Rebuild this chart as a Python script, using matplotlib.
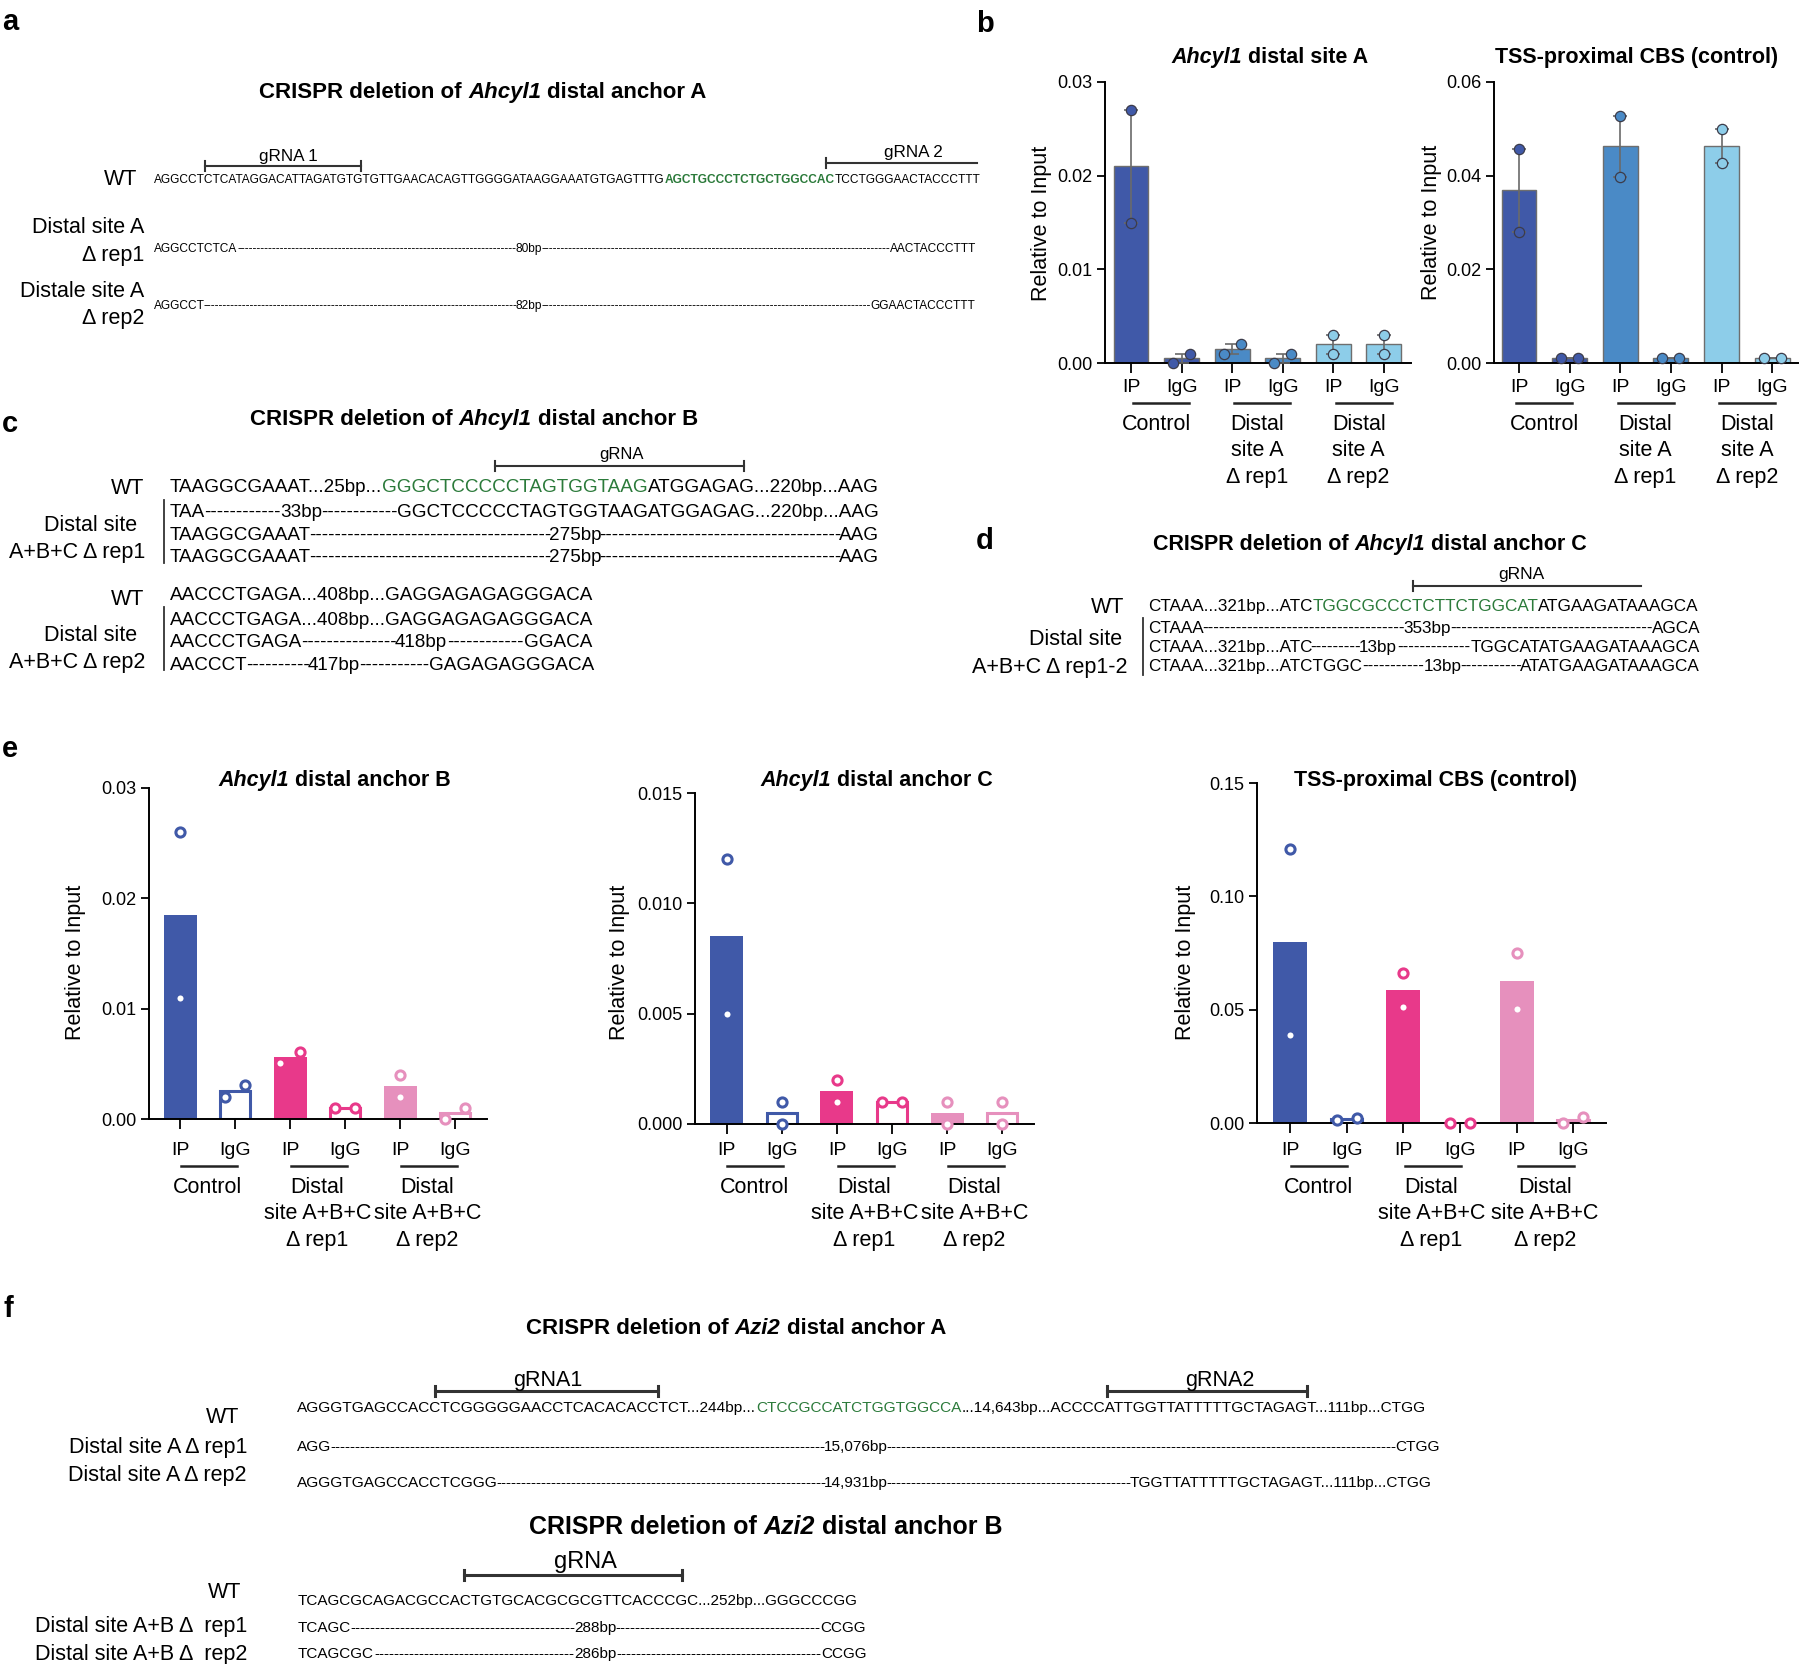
import matplotlib
matplotlib.use('Agg')
import matplotlib.pyplot as plt
from matplotlib.lines import Line2D
import numpy as np
import math

# ----------------------------------------------------------------- data ----
conditions = ["IP", "IgG"]
b_groups = [["Control"], ["Distal", "site A", "Δ rep1"], ["Distal", "site A", "Δ rep2"]]
e_groups = [["Control"], ["Distal", "site A+B+C", "Δ rep1"], ["Distal", "site A+B+C", "Δ rep2"]]

# bar order: Control IP, Control IgG, rep1 IP, rep1 IgG, rep2 IP, rep2 IgG
b_siteA_r1 = [0.0270, 0.0000, 0.0010, 0.0000, 0.0030, 0.0030]
b_siteA_r2 = [0.0150, 0.0010, 0.0020, 0.0010, 0.0010, 0.0010]
b_tss_r1 = [0.0457, 0.0010, 0.0528, 0.0010, 0.0500, 0.0010]
b_tss_r2 = [0.0280, 0.0010, 0.0398, 0.0010, 0.0428, 0.0010]
b_siteA_yticks = [0.0, 0.01, 0.02, 0.03]
b_siteA_ylabels = ["0.00", "0.01", "0.02", "0.03"]
b_tss_yticks = [0.0, 0.02, 0.04, 0.06]
b_tss_ylabels = ["0.00", "0.02", "0.04", "0.06"]

e_B_r1 = [0.0260, 0.0020, 0.0051, 0.0010, 0.0040, 0.0000]
e_B_r2 = [0.0110, 0.0031, 0.0061, 0.0010, 0.0020, 0.0010]
e_C_r1 = [0.0120, 0.0010, 0.0020, 0.0010, 0.0010, 0.0010]
e_C_r2 = [0.0050, 0.0000, 0.0010, 0.0010, 0.0000, 0.0000]
e_T_r1 = [0.1210, 0.0012, 0.0662, 0.0000, 0.0750, 0.0000]
e_T_r2 = [0.0388, 0.0021, 0.0512, 0.0000, 0.0503, 0.0028]
e_B_yticks = [0.0, 0.01, 0.02, 0.03]
e_B_ylabels = ["0.00", "0.01", "0.02", "0.03"]
e_C_yticks = [0.0, 0.005, 0.010, 0.015]
e_C_ylabels = ["0.000", "0.005", "0.010", "0.015"]
e_T_yticks = [0.0, 0.05, 0.10, 0.15]
e_T_ylabels = ["0.00", "0.05", "0.10", "0.15"]

# sequences
a_wt = ["AGGCCTCTCATAGGACATTAGATGTGTGTTGAACACAGTTGGGGATAAGGAAATGTGAGTTTG",
        "AGCTGCCCTCTGCTGGCCAC", "TCCTGGGAACTACCCTTT"]
a_rows = [("AGGCCTCTCA", "80bp", "AACTACCCTTT"), ("AGGCCT", "82bp", "GGAACTACCCTTT")]
c_wt1 = ["TAAGGCGAAAT...25bp...", "GGGCTCCCCCTAGTGGTAAG", "ATGGAGAG...220bp...AAG"]
c_rows1 = [("TAA", "33bp", "GGCTCCCCCTAGTGGTAAGATGGAGAG...220bp...AAG"),
           ("TAAGGCGAAAT", "275bp", "AAG"), ("TAAGGCGAAAT", "275bp", "AAG")]
c_wt2 = "AACCCTGAGA...408bp...GAGGAGAGAGGGACA"
c_rows2 = [("AACCCTGAGA", "418bp", "GGACA"), ("AACCCT", "417bp", "GAGAGAGGGACA")]
d_wt = ["CTAAA...321bp...ATC", "TGGCGCCCTCTTCTGGCAT", "ATGAAGATAAAGCA"]
d_rows = [("CTAAA", "353bp", "AGCA"), ("CTAAA...321bp...ATC", "13bp", "TGGCATATGAAGATAAAGCA"),
          ("CTAAA...321bp...ATCTGGC", "13bp", "ATATGAAGATAAAGCA")]
fA_wt = ["AGGGTGAGCCACCTCGGGGGAACCTCACACACCTCT...244bp...", "CTCCGCCATCTGGTGGCCA",
         "...14,643bp...ACCCCATTGGTTATTTTTGCTAGAGT...111bp...CTGG"]
fA_rows = [("AGG", "15,076bp", "CTGG"),
           ("AGGGTGAGCCACCTCGGG", "14,931bp", "TGGTTATTTTTGCTAGAGT...111bp...CTGG")]
fB_wt = "TCAGCGCAGACGCCACTGTGCACGCGCGTTCACCCGC...252bp...GGGCCCGG"
fB_rows = [("TCAGC", "288bp", "CCGG"), ("TCAGCGC", "286bp", "CCGG")]

# ---------------------------------------------------------------- style ----
BLUE_D, BLUE_M, BLUE_L = '#4059a8', '#4a8ac6', '#8dcde9'
PINK, PINK_L = '#e8398a', '#e690bd'
GREEN = '#2b7a3a'
W, H = 1800, 1664
PX = 100 / 72

plt.rcParams['font.family'] = ['Liberation Sans', 'DejaVu Sans']
fig = plt.figure(figsize=(W / 100, H / 100), dpi=100)
R = fig.canvas.get_renderer()


def fx(x):
    return x / W


def fy(y):
    return 1 - y / H


def text_w(s, size, weight='normal', style='normal'):
    t = fig.text(0, 0, s, fontsize=size, fontweight=weight, fontstyle=style)
    w = t.get_window_extent(R).width
    t.remove()
    return w


def put(x, y, s, size, ha='left', weight='normal', style='normal', color='black'):
    base = y + 0.358 * size * PX
    return fig.text(fx(x), fy(base), s, fontsize=size, fontweight=weight,
                    fontstyle=style, color=color, ha=ha, va='baseline')


def runs(x, y, pieces, size=None, ha='left', sep=False, width=None):
    if width is not None:
        w0 = sum(text_w(p[0], 10, p[1], p[2]) for p in pieces)
        size = 10 * width / w0
    ws = [text_w(p[0], size, p[1], p[2]) for p in pieces]
    sp = (text_w('a a', size, 'bold') - text_w('aa', size, 'bold')) if sep else 0
    total = sum(ws) + sp * (len(pieces) - 1)
    x0 = {'left': x, 'center': x - total / 2, 'right': x - total}[ha]
    for p, w in zip(pieces, ws):
        put(x0, y, p[0], size, 'left', p[1], p[2], p[3])
        x0 += w + sp
    return size


def dash_row(y, xl, row, xm, xr, size):
    left, mid, right = row
    hw = text_w('-' * 40, size) / 40
    wl, wm, wr = text_w(left, size), text_w(mid, size), text_w(right, size)
    put(xl, y, left, size)
    put(xm, y, mid, size, ha='center')
    put(xr, y, right, size, ha='right')
    for a, b in [(xl + wl, xm - wm / 2), (xm + wm / 2, xr - wr)]:
        n = int(math.floor((b - a) / hw + 0.85))
        if n > 0:
            put((a + b) / 2, y, '-' * n, size, ha='center')


def fline(xs, ys, lw=1.5, color='#333333'):
    fig.add_artist(Line2D([fx(v) for v in xs], [fy(v) for v in ys],
                          transform=fig.transFigure, color=color, lw=lw))


def grna_bar(x0, x1, y, ticks=(True, True), lw=1.5, th=5):
    fline([x0, x1], [y, y], lw)
    for flag, xx in zip(ticks, (x0, x1)):
        if flag:
            fline([xx, xx], [y - th, y + th], lw)


B, I, N = 'bold', 'italic', 'normal'
K = 'black'


def title(x, y, gene, rest, size):
    runs(x, y, [("CRISPR deletion of", B, N, K), (gene, B, I, K), (rest, B, N, K)],
         size, 'center', sep=True)


# ---------------------------------------------------------- panel labels ----
for lab, xx, yy in [('a', 2, 30), ('b', 976, 32), ('c', 2, 432), ('d', 976, 549),
                    ('e', 2, 757), ('f', 4, 1317)]:
    fig.text(fx(xx), fy(yy), lab, fontsize=21, fontweight='bold', va='baseline')

# --------------------------------------------------------------- panel a ----
title(483, 90, "Ahcyl1", "distal anchor A", 16)
put(288, 155, "gRNA 1", 12.3, 'center')
grna_bar(205, 361, 166)
put(913, 151, "gRNA 2", 12.3, 'center')
grna_bar(826, 977, 163, (True, False))
put(137, 177, "WT", 15.5, 'right')
put(144, 225, "Distal site A", 15.5, 'right')
put(144, 253, "Δ rep1", 15.5, 'right')
put(144, 289, "Distale site A", 15.5, 'right')
put(144, 316, "Δ rep2", 15.5, 'right')
fs_a = runs(154, 179, [(a_wt[0], N, N, K), (a_wt[1], B, N, GREEN), (a_wt[2], N, N, K)],
            width=824)
dash_row(248, 154, a_rows[0], 529, 976, fs_a)
dash_row(305, 154, a_rows[1], 529, 975, fs_a)

# --------------------------------------------------------------- panel c ----
title(474, 417, "Ahcyl1", "distal anchor B", 16)
put(621, 453, "gRNA", 12, 'center')
grna_bar(495, 744, 466)
put(144, 486, "WT", 15.5, 'right')
put(137, 523, "Distal site", 15.5, 'right')
put(145, 550, "A+B+C Δ rep1", 15.5, 'right')
put(144, 597, "WT", 15.5, 'right')
put(137, 633, "Distal site", 15.5, 'right')
put(145, 660, "A+B+C Δ rep2", 15.5, 'right')
fs_c = runs(170, 485, [(c_wt1[0], N, N, K), (c_wt1[1], N, N, GREEN), (c_wt1[2], N, N, K)],
            width=709)
for yy, row, xm in zip([510, 533, 555], c_rows1, [301, 575, 575]):
    dash_row(yy, 170, row, xm, 879, fs_c)
put(170, 593, c_wt2, fs_c)
put(170, 618, c_wt2, fs_c)
dash_row(640, 170, c_rows2[0], 421, 592, fs_c)
dash_row(663, 170, c_rows2[1], 334, 594, fs_c)
fline([164, 164], [500, 563], 1.3)
fline([164, 164], [607, 670], 1.3)

# --------------------------------------------------------------- panel d ----
title(1370, 542, "Ahcyl1", "distal anchor C", 15.5)
put(1521, 573, "gRNA", 12.5, 'center')
grna_bar(1413, 1641, 586, (True, False))
put(1124, 605, "WT", 15.5, 'right')
put(1122, 637, "Distal site", 15.5, 'right')
put(1128, 665, "A+B+C Δ rep1-2", 15.5, 'right')
fs_d = runs(1148, 605, [(d_wt[0], N, N, K), (d_wt[1], N, N, GREEN), (d_wt[2], N, N, K)],
            width=552)
for yy, row, xm in zip([627, 646, 665], d_rows, [1427, 1378, 1443]):
    dash_row(yy, 1148, row, xm, 1700, fs_d)
fline([1143, 1143], [618, 675], 1.3)

# --------------------------------------------------------------- panel f ----
title(736, 1326, "Azi2", "distal anchor A", 16)
put(548, 1378, "gRNA1", 15.5, 'center')
grna_bar(435, 658, 1391, lw=2.2)
put(1220, 1378, "gRNA2", 15.5, 'center')
grna_bar(1107, 1307, 1391, lw=2.2)
put(239, 1415, "WT", 15.5, 'right')
put(247, 1445, "Distal site A Δ rep1", 15.5, 'right')
put(247, 1473, "Distal site A Δ rep2", 15.5, 'right')
fs_f = runs(297, 1407, [(fA_wt[0], N, N, K), (fA_wt[1], N, N, GREEN), (fA_wt[2], N, N, K)],
            width=1126)
dash_row(1446, 297, fA_rows[0], 856, 1440, fs_f)
dash_row(1482, 297, fA_rows[1], 856, 1432, fs_f)

title(766, 1525, "Azi2", "distal anchor B", 18)
put(585, 1560, "gRNA", 17, 'center')
grna_bar(464, 682, 1575, lw=2.2)
put(241, 1590, "WT", 15.5, 'right')
put(247, 1624, "Distal site A+B Δ  rep1", 15.5, 'right')
put(247, 1652, "Distal site A+B Δ  rep2", 15.5, 'right')
fs_fb = runs(298, 1600, [(fB_wt, N, N, K)], width=564)
dash_row(1627, 298, fB_rows[0], 595, 866, fs_fb)
dash_row(1653, 298, fB_rows[1], 595, 867, fs_fb)


# ------------------------------------------------------------ bar charts ----
def setup_axes(x0, x1, ytop, ybot, xlim, yticks, ylabels):
    ax = fig.add_axes([x0 / W, 1 - ybot / H, (x1 - x0) / W, (ybot - ytop) / H])
    ax.set_xlim(*xlim)
    ax.set_ylim(0, yticks[-1])
    for s in ['top', 'right']:
        ax.spines[s].set_visible(False)
    for s in ['left', 'bottom']:
        ax.spines[s].set_linewidth(1.4)
    ax.set_yticks(yticks)
    ax.set_yticklabels(ylabels)
    ax.set_xticks(range(6))
    ax.set_xticklabels([])
    ax.tick_params(axis='y', length=6, width=1.3, labelsize=13, pad=3)
    ax.tick_params(axis='x', length=7.5, width=1.3)
    ax.patch.set_alpha(0)
    return ax


def point_xs(ax, i, vals, dx_px):
    bb = ax.get_window_extent(R)
    ppv = bb.height / ax.get_ylim()[1]
    upp = (ax.get_xlim()[1] - ax.get_xlim()[0]) / bb.width
    lo, hi = sorted(vals)
    if (hi - lo) * ppv < 14:
        d = dx_px * upp
        return [i - d, i + d], [lo, hi]
    return [i, i], [lo, hi]


def xlabels(ax, groups, y_ip, y_line, y_grp, dy, off):
    for g in range(3):
        xa = ax.transData.transform((2 * g, 0))[0]
        xb = ax.transData.transform((2 * g + 1, 0))[0]
        put(xa, y_ip, conditions[0], 14, 'center')
        put(xb, y_ip, conditions[1], 14, 'center')
        c = (xa + xb) / 2 + off
        fline([c - 28, c + 28], [y_line, y_line], 1.8, '#222222')
        for k, s in enumerate(groups[g]):
            put((xa + xb) / 2, y_grp + k * dy, s, 15.5, 'center')


def b_chart(ax, r1, r2, colors):
    for i in range(6):
        col = colors[i]
        vals = np.array([r1[i], r2[i]])
        m = vals.mean()
        sem = vals.std(ddof=1) / np.sqrt(len(vals))
        ax.bar(i, m, width=0.69, color=col, edgecolor='#6e6e6e', linewidth=1.0, zorder=2)
        ax.errorbar(i, m, yerr=sem, color='#6a6a6a', lw=1.2, capsize=5, capthick=1.2,
                    zorder=3)
        xs, ys = point_xs(ax, i, vals, 8.5)
        ax.plot(xs, ys, 'o', ms=7.4, mfc=col, mec='#3c3c4a', mew=0.9, zorder=4,
                clip_on=False, ls='none')


def e_chart(ax, r1, r2, colors):
    for i in range(6):
        col = colors[i]
        vals = np.array([r1[i], r2[i]])
        m = vals.mean()
        if i % 2 == 0:
            ax.bar(i, m, width=0.6, color=col, linewidth=0, zorder=2)
        elif m > 0:
            ax.bar(i, m, width=0.56, facecolor='white', edgecolor=col, linewidth=2.2,
                   zorder=2)
        xs, ys = point_xs(ax, i, vals, 10)
        ax.plot(xs, ys, 'o', ms=6.6, mfc='white', mec=col, mew=2.2, zorder=4,
                clip_on=False, ls='none')


b_cols = [BLUE_D, BLUE_D, BLUE_M, BLUE_M, BLUE_L, BLUE_L]
e_cols = [BLUE_D, BLUE_D, PINK, PINK, PINK_L, PINK_L]

# panel b
axA = setup_axes(1105, 1411, 82, 363, (-0.515, 5.535), b_siteA_yticks, b_siteA_ylabels)
b_chart(axA, b_siteA_r1, b_siteA_r2, b_cols)
xlabels(axA, b_groups, 385, 403, 422, 26.5, 5)
runs(1270, 55, [("Ahcyl1", B, I, K), ("distal site A", B, N, K)], 15.5, 'center', sep=True)
fig.text(fx(1041), fy(223), "Relative to Input", rotation=90, ha='center', va='center',
         fontsize=15.5)

axT = setup_axes(1494, 1798, 82, 363, (-0.494, 5.51), b_tss_yticks, b_tss_ylabels)
b_chart(axT, b_tss_r1, b_tss_r2, b_cols)
xlabels(axT, b_groups, 385, 403, 422, 26.5, 0)
put(1637, 55, "TSS-proximal CBS (control)", 15.5, 'center', weight='bold')
fig.text(fx(1431), fy(222), "Relative to Input", rotation=90, ha='center', va='center',
         fontsize=15.5)

# panel e
e_specs = [
    (149, 487, 788, 1119, (-0.564, 5.58), e_B_yticks, e_B_ylabels, e_B_r1, e_B_r2,
     75, 335, [("Ahcyl1", B, I, K), ("distal anchor B", B, N, K)]),
    (695, 1034, 793, 1124, (-0.58, 5.58), e_C_yticks, e_C_ylabels, e_C_r1, e_C_r2,
     619, 877, [("Ahcyl1", B, I, K), ("distal anchor C", B, N, K)]),
    (1257, 1606, 783, 1123, (-0.583, 5.58), e_T_yticks, e_T_ylabels, e_T_r1, e_T_r2,
     1185, 1436, [("TSS-proximal CBS (control)", B, N, K)]),
]
for (x0, x1, yt, yb, xl, yticks, ylabs, r1, r2, ylx, tx, tpieces) in e_specs:
    ax = setup_axes(x0, x1, yt, yb, xl, yticks, ylabs)
    e_chart(ax, r1, r2, e_cols)
    xlabels(ax, e_groups, 1148, 1166, 1185, 26.5, 1)
    runs(tx, 778, tpieces, 15.5, 'center', sep=True)
    fig.text(fx(ylx), fy(962), "Relative to Input", rotation=90, ha='center', va='center',
             fontsize=15.5)

fig.savefig('out.png', dpi=100)
